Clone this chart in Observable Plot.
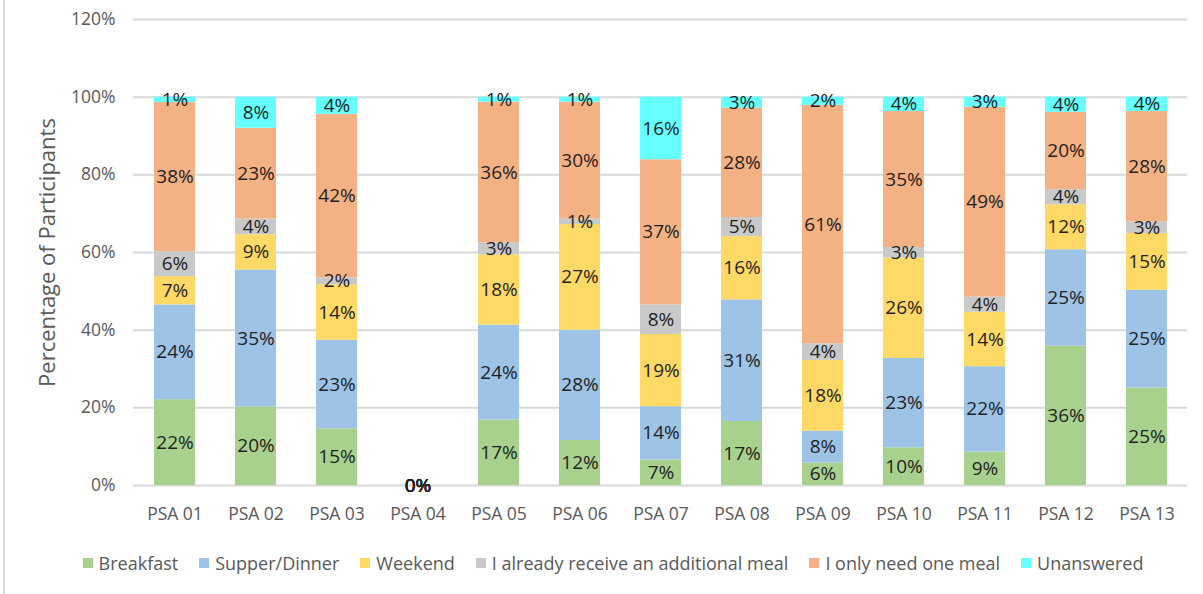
<!DOCTYPE html>
<html><head><meta charset="utf-8">
<script src="https://cdn.jsdelivr.net/npm/d3@7"></script>
<script src="https://cdn.jsdelivr.net/npm/@observablehq/plot@0.6"></script>
<style>
body{margin:0;background:#fff;font-family:"Open Sans",sans-serif;}
#chart{position:relative;width:1203px;height:594px;overflow:hidden;}
#border{position:absolute;left:3px;top:0;width:2px;height:594px;background:#D9D9D9;}
#legend{position:absolute;left:0;top:551px;width:1203px;box-sizing:border-box;padding-left:23px;display:flex;justify-content:center;gap:21px;font-size:18px;color:#595959;line-height:24px;white-space:nowrap;}
#legend .item{display:flex;align-items:center;gap:6px;}
#legend .sw{width:10px;height:10px;display:inline-block;}
</style></head><body>
<div id="chart"><div id="border"></div><div id="plot"></div><div id="legend"></div></div>
<script>
const psas = ["PSA 01","PSA 02","PSA 03","PSA 04","PSA 05","PSA 06","PSA 07","PSA 08","PSA 09","PSA 10","PSA 11","PSA 12","PSA 13"];
const categories = ["Breakfast","Supper/Dinner","Weekend","I already receive an additional meal","I only need one meal","Unanswered"];
const colors = ["#A9D18E","#9DC3E6","#FFD966","#C9C9C9","#F4B183","#66FFFF"];
const yTicks = [0,20,40,60,80,100,120];
const yTitle = "Percentage of Participants";

const breakfast  = [22.1,20.2,14.6,0,16.9,11.6, 6.6,16.5, 5.8, 9.7, 8.6,35.9,25.1];
const supper     = [24.4,35.3,22.8,0,24.4,28.4,13.7,31.3, 8.2,23.0,22.0,24.8,25.2];
const weekend    = [ 7.3, 9.1,14.3,0,18.1,27.2,18.6,16.3,18.2,25.9,14.0,11.6,14.6];
const already    = [ 6.4, 4.0, 1.8,0, 3.1, 1.4, 7.6, 4.9, 4.3, 2.7, 3.9, 3.9, 3.0];
const oneMeal    = [38.4,23.4,42.1,0,36.2,30.1,37.4,28.2,61.4,35.0,48.9,19.9,28.4];
const unanswered = [ 1.4, 8.0, 4.4,0, 1.3, 1.3,16.1, 2.8, 2.1, 3.7, 2.6, 3.9, 3.7];

const series = [breakfast, supper, weekend, already, oneMeal, unanswered];
const data = [];
psas.forEach((p, i) => {
  categories.forEach((c, j) => data.push({psa: p, cat: c, value: series[j][i]}));
});

const font = '"Open Sans", sans-serif';
const chart = Plot.plot({
  width: 1203,
  height: 540,
  marginLeft: 133,
  marginRight: 16,
  marginTop: 19,
  marginBottom: 55,
  style: {fontFamily: font, fontSize: "17.5px", color: "#595959", background: "#fff"},
  x: {domain: psas, paddingInner: 0.5, paddingOuter: 0.25, label: null},
  y: {domain: [0, 120], label: null},
  color: {domain: categories, range: colors},
  marks: [
    Plot.ruleY(yTicks, {stroke: "#D9D9D9", strokeWidth: 2}),
    Plot.barY(data, {x: "psa", y: "value", fill: "cat"}),
    Plot.text(data, Plot.stackY({x: "psa", y: "value", z: "cat",
      text: d => Math.round(d.value) + "%", fill: "#1f1f1f", fontSize: 19})),
    Plot.axisY(yTicks, {tickSize: 0, tickPadding: 18, tickFormat: d => d + "%", label: null, fontSize: 17.5, fill: "#595959"}),
    Plot.axisX({tickSize: 0, tickPadding: 22, label: null, fontSize: 17.5, fill: "#595959"}),
    Plot.text([yTitle], {frameAnchor: "left", rotate: -90, dx: -86, textAnchor: "middle", text: d => d, fontSize: 22, fill: "#595959"})
  ]
});
document.getElementById("plot").appendChild(chart);

const legend = document.getElementById("legend");
categories.forEach((c, j) => {
  const it = document.createElement("div");
  it.className = "item";
  const sw = document.createElement("span");
  sw.className = "sw";
  sw.style.background = colors[j];
  const tx = document.createElement("span");
  tx.textContent = c;
  it.appendChild(sw); it.appendChild(tx);
  legend.appendChild(it);
});
</script>
</body></html>
